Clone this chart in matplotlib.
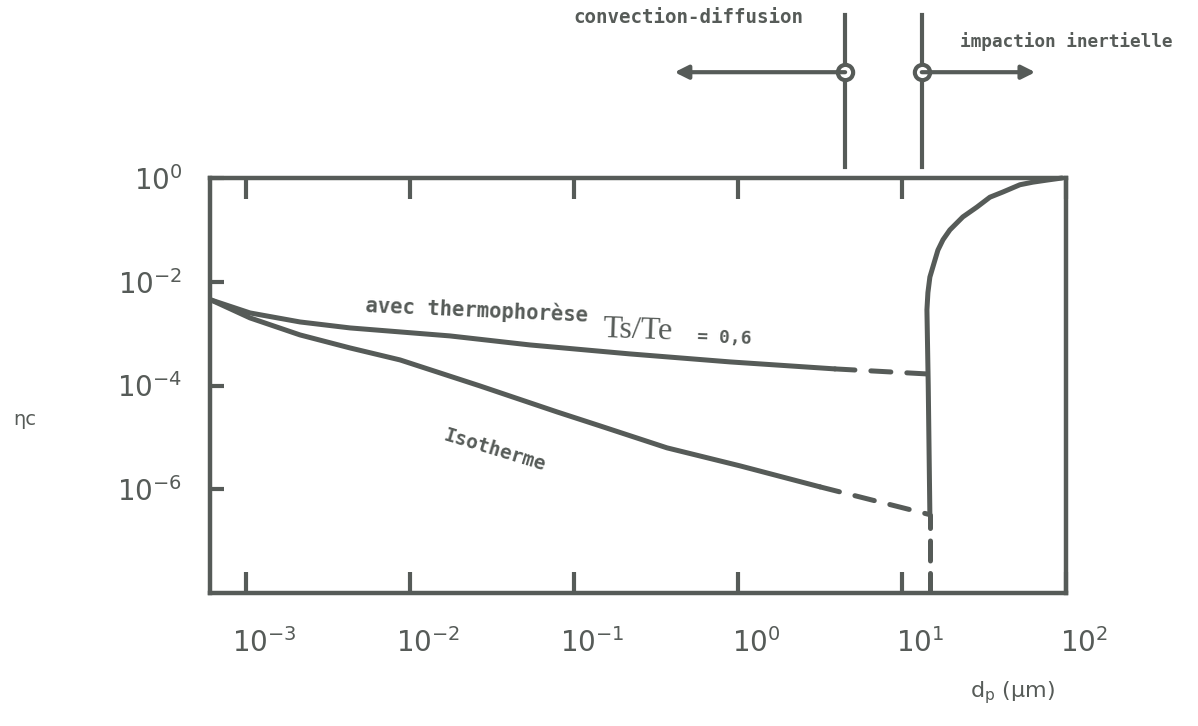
import numpy as np
import matplotlib.pyplot as plt
from matplotlib import transforms

# particle diameter (log10 of um) and collection efficiency (log10)
thermo_x = [-3.214, -2.976, -2.671, -2.366, -2.061, -1.757, -1.269, -0.659, -0.049, 0.591]
thermo_y = [-2.351, -2.601, -2.775, -2.890, -2.967, -3.044, -3.218, -3.391, -3.545, -3.680]
thermo_ext_x = [0.591, 1.17]
thermo_ext_y = [-3.680, -3.78]

iso_x = [-3.214, -2.976, -2.671, -2.366, -2.061, -1.574, -1.104, -0.842, -0.433, 0.012, 0.500]
iso_y = [-2.351, -2.697, -3.025, -3.276, -3.507, -4.008, -4.509, -4.778, -5.202, -5.549, -5.954]
iso_ext_x = [0.500, 1.17]
iso_ext_y = [-5.954, -6.49]

imp_x = [1.17, 1.16, 1.152, 1.158, 1.170, 1.201, 1.219, 1.250, 1.292, 1.371, 1.457,
         1.536, 1.615, 1.719, 1.798, 1.884, 1.975]
imp_y = [-6.49, -4.0, -2.54, -2.21, -1.91, -1.58, -1.39, -1.19, -1.00, -0.75, -0.56,
         -0.37, -0.27, -0.13, -0.08, -0.04, 0.0]
imp_ext_x = [1.17, 1.17]
imp_ext_y = [-8.0, -6.49]

# regime limits drawn above the frame (um)
lim_diffusion = 4.5
lim_impaction = 13.2
arrow_left_end = 0.41
arrow_right_end = 65

xticks = [1e-3, 1e-2, 1e-1, 1e0, 1e1, 1e2]
xticklabels = [r'$\mathregular{10^{-3}}$', r'$\mathregular{10^{-2}}$', r'$\mathregular{10^{-1}}$',
               r'$\mathregular{10^{0}}$', r'$\mathregular{10^{1}}$', r'$\mathregular{10^{2}}$']
yticks = [1e-6, 1e-4, 1e-2, 1e0]
yticklabels = [r'$\mathregular{10^{-6}}$', r'$\mathregular{10^{-4}}$', r'$\mathregular{10^{-2}}$',
               r'$\mathregular{10^{0}}$']

ink = '#565b58'

fig = plt.figure(figsize=(11.98, 7.26), dpi=100)
ax = fig.add_axes([0.1753, 0.1832, 0.7145, 0.5716])

def p(v):
    return 10 ** np.asarray(v)

lw = 3.6
ax.plot(p(thermo_x), p(thermo_y), color=ink, lw=lw, solid_capstyle='round', solid_joinstyle='round')
ax.plot(p(thermo_ext_x), p(thermo_ext_y), color=ink, lw=lw, dashes=(4, 3.2), dash_capstyle='round')
ax.plot(p(iso_x), p(iso_y), color=ink, lw=lw, solid_capstyle='round', solid_joinstyle='round')
ax.plot(p(iso_ext_x), p(iso_ext_y), color=ink, lw=lw, dashes=(4, 3.2), dash_capstyle='round')
ax.plot(p(imp_x), p(imp_y), color=ink, lw=lw, solid_capstyle='round', solid_joinstyle='round',
        clip_on=False)
ax.plot(p(imp_ext_x), p(imp_ext_y), color=ink, lw=lw, dashes=(4, 2.5), dash_capstyle='round')

ax.set_xscale('log')
ax.set_yscale('log')
ax.set_xlim(10 ** -3.22, 100)
ax.set_ylim(1e-8, 1)

ax.set_xticks(xticks)
ax.set_xticklabels(xticklabels)
ax.set_yticks(yticks)
ax.set_yticklabels(yticklabels)
ax.minorticks_off()
ax.tick_params(axis='x', which='major', direction='in', length=15, width=3, color=ink,
               labelsize=20, labelcolor=ink, pad=25, top=True)
ax.tick_params(axis='y', which='major', direction='in', length=10, width=3, color=ink,
               labelsize=20, labelcolor=ink, pad=20)
# shift x labels a little right like the original
offset = transforms.ScaledTranslation(18 / 100, 0, fig.dpi_scale_trans)
for lab in ax.get_xticklabels():
    lab.set_transform(lab.get_transform() + offset)

for s in ax.spines.values():
    s.set_color(ink)
    s.set_linewidth(3.2)

# in-plot labels
ax.text(0.181, 0.677, 'avec thermophorèse', transform=ax.transAxes, rotation=-2.5,
        rotation_mode='anchor', family='DejaVu Sans Mono', weight='bold', fontsize=14.8,
        color=ink, va='baseline')
ax.text(0.459, 0.617, 'Ts/Te', transform=ax.transAxes, rotation=-2, rotation_mode='anchor',
        family='Liberation Serif', fontsize=23, color=ink, va='baseline')
ax.text(0.569, 0.604, '= 0,6', transform=ax.transAxes, rotation=-2, rotation_mode='anchor',
        family='DejaVu Sans Mono', weight='bold', fontsize=13, color=ink, va='baseline')
ax.text(0.271, 0.369, 'Isotherme', transform=ax.transAxes, rotation=-17, rotation_mode='anchor',
        family='DejaVu Sans Mono', weight='bold', fontsize=14, color=ink, va='baseline')

# regime marks above the frame
tr = transforms.blended_transform_factory(ax.transData, ax.transAxes)
for xv in (lim_diffusion, lim_impaction):
    ax.plot([xv, xv], [1.0265, 1.393], transform=tr, color=ink, lw=3, clip_on=False)
ax.annotate('', xy=(arrow_left_end, 1.255), xytext=(lim_diffusion, 1.255), xycoords=tr, textcoords=tr,
            arrowprops=dict(arrowstyle='-|>', color=ink, lw=3, mutation_scale=20, shrinkA=0, shrinkB=0),
            annotation_clip=False)
ax.annotate('', xy=(arrow_right_end, 1.255), xytext=(lim_impaction, 1.255), xycoords=tr, textcoords=tr,
            arrowprops=dict(arrowstyle='-|>', color=ink, lw=3, mutation_scale=20, shrinkA=0, shrinkB=0),
            annotation_clip=False)
ax.plot([lim_diffusion, lim_impaction], [1.255, 1.255], transform=tr, ls='none', marker='o',
        ms=11, mfc='white', mec=ink, mew=3, clip_on=False)

ax.text(0.693, 1.386, 'convection-diffusion', transform=ax.transAxes, ha='right', va='center',
        family='DejaVu Sans Mono', weight='bold', fontsize=13.8, color=ink)
ax.text(0.876, 1.328, 'impaction inertielle', transform=ax.transAxes, ha='left', va='center',
        family='DejaVu Sans Mono', weight='bold', fontsize=12.8, color=ink)

fig.text(13 / 1198, 1 - 420 / 726, 'ηc', fontsize=14, color=ink, va='center', ha='left')
fig.text(970 / 1198, 1 - 693 / 726, r'd$_\mathregular{p}$ (µm)', fontsize=16, color=ink,
         va='center', ha='left')

fig.savefig('out.png', dpi=100)
